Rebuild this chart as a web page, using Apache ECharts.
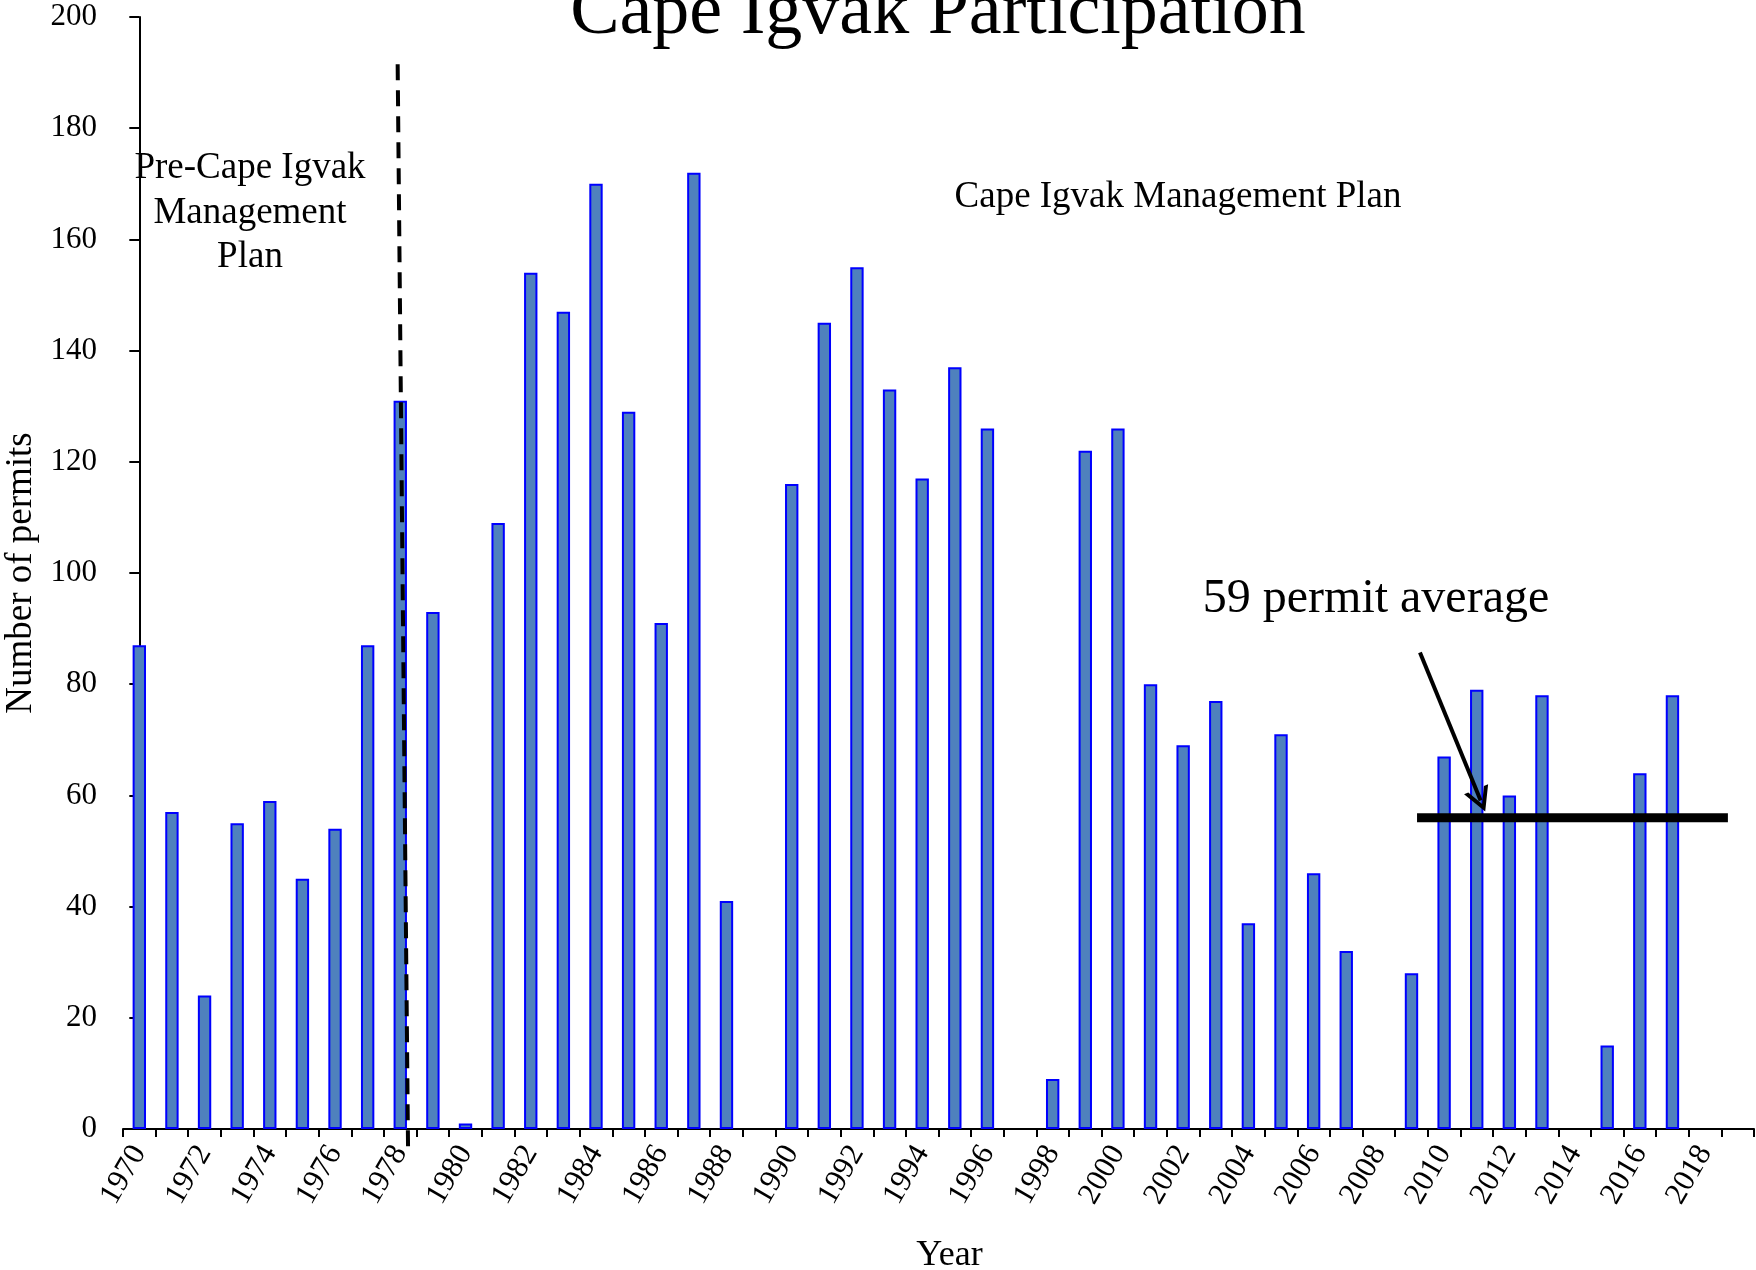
<!DOCTYPE html>
<html>
<head>
<meta charset="utf-8">
<script src="https://cdn.jsdelivr.net/npm/echarts@6/dist/echarts.min.js"></script>
<style>
  html, body { margin: 0; padding: 0; background: #fff; }
  #chart { width: 1756px; height: 1270px; }
</style>
</head>
<body>
<div id="chart"></div>
<script>
// ---- Data ----
const years = ['1970','1971','1972','1973','1974','1975','1976','1977','1978','1979',
               '1980','1981','1982','1983','1984','1985','1986','1987','1988','1989',
               '1990','1991','1992','1993','1994','1995','1996','1997','1998','1999',
               '2000','2001','2002','2003','2004','2005','2006','2007','2008','2009',
               '2010','2011','2012','2013','2014','2015','2016','2017','2018','2019'];
const permits = [87, 57, 24, 55, 59, 45, 54, 87, 131, 93,
                 1, 109, 154, 147, 170, 129, 91, 172, 41, null,
                 116, 145, 155, 133, 117, 137, 126, null, 9, 122,
                 126, 80, 69, 77, 37, 71, 46, 32, null, 28,
                 67, 79, 60, 78, null, 15, 64, 78, null, null];
const yTicks = [0, 20, 40, 60, 80, 100, 120, 140, 160, 180, 200];
const averageLevel = 56;          // level of the drawn "average" bar line
const averageLabel = '59 permit average';

// ---- Annotation geometry (in category-index units on a hidden value axis) ----
const averageSpan = [39.17, 48.7];
const planDivider = [[7.92, 191.5], [8.24, -4.5]];
const arrowFromTo = [[39.26, 85.7], [41.12, 59.1]];

const FONT = '"Liberation Serif", "Times New Roman", serif';

const chart = echarts.init(document.getElementById('chart'), null, { renderer: 'canvas' });

const option = {
  backgroundColor: '#ffffff',
  animation: false,
  grid: { left: 123, right: 2, top: 17, bottom: 141, containLabel: false, outerBoundsMode: 'none' },
  xAxis: [
    {
      type: 'category',
      data: years,
      boundaryGap: true,
      axisLine: { show: true, lineStyle: { color: '#000', width: 2 } },
      axisTick: { show: true, interval: 0, length: 8, lineStyle: { color: '#000', width: 2 } },
      axisLabel: { interval: 1, rotate: 60, margin: 19, fontSize: 31, color: '#000', fontFamily: FONT },
      splitLine: { show: false },
      name: 'Year',
      nameLocation: 'middle',
      nameGap: 108.5,
      nameTextStyle: { fontSize: 36, color: '#000', fontFamily: FONT, padding: [0, 0, 0, 22] }
    },
    {
      type: 'value',
      min: -0.5,
      max: years.length - 0.5,
      show: false
    }
  ],
  yAxis: {
    type: 'value',
    min: yTicks[0],
    max: yTicks[yTicks.length - 1],
    interval: yTicks[1] - yTicks[0],
    axisLine: { show: true, lineStyle: { color: '#000', width: 2 } },
    axisTick: { show: true, length: 10, lineStyle: { color: '#000', width: 2 } },
    axisLabel: { fontSize: 31, color: '#000', margin: 26, fontFamily: FONT },
    splitLine: { show: false },
    name: 'Number of permits',
    nameLocation: 'middle',
    nameGap: 83,
    nameTextStyle: { fontSize: 37, color: '#000', fontFamily: FONT }
  },
  series: [
    {
      name: 'Permits',
      type: 'bar',
      data: permits,
      barWidth: '41%',
      itemStyle: { color: '#4F81BD', borderColor: '#0000FF', borderWidth: 2 },
      z: 2
    },
    {
      name: 'divider',
      type: 'line',
      xAxisIndex: 1,
      data: planDivider,
      symbol: 'none',
      clip: false,
      silent: true,
      lineStyle: { color: '#000', width: 4, type: [16, 10] },
      z: 4
    },
    {
      name: 'average',
      type: 'line',
      xAxisIndex: 1,
      data: [[averageSpan[0], averageLevel], [averageSpan[1], averageLevel]],
      symbol: 'none',
      clip: false,
      silent: true,
      lineStyle: { color: '#000', width: 9 },
      z: 5,
      markLine: {
        silent: true,
        symbol: ['none', 'path://M10,0 L20,18 L16.5,18 L10,6 L3.5,18 L0,18 Z'],
        symbolSize: [26, 24],
        label: { show: false },
        lineStyle: { color: '#000', width: 4, type: 'solid' },
        data: [[{ coord: arrowFromTo[0] }, { coord: arrowFromTo[1] }]]
      }
    }
  ],
  graphic: [
    {
      type: 'text', x: 938, y: 14, silent: true,
      style: { text: 'Cape Igvak Participation', fontSize: 74, fontFamily: FONT, fill: '#000',
               align: 'center', verticalAlign: 'middle' }
    },
    {
      type: 'text', x: 250, y: 213, silent: true,
      style: { text: 'Pre-Cape Igvak\nManagement\nPlan', fontSize: 37, lineHeight: 44.5, fontFamily: FONT,
               fill: '#000', align: 'center', verticalAlign: 'middle' }
    },
    {
      type: 'text', x: 1178, y: 197, silent: true,
      style: { text: 'Cape Igvak Management Plan', fontSize: 37, fontFamily: FONT, fill: '#000',
               align: 'center', verticalAlign: 'middle' }
    },
    {
      type: 'text', x: 1376, y: 599.5, silent: true,
      style: { text: averageLabel, fontSize: 48, fontFamily: FONT, fill: '#000',
               align: 'center', verticalAlign: 'middle' }
    }
  ]
};

chart.setOption(option);
</script>
</body>
</html>
